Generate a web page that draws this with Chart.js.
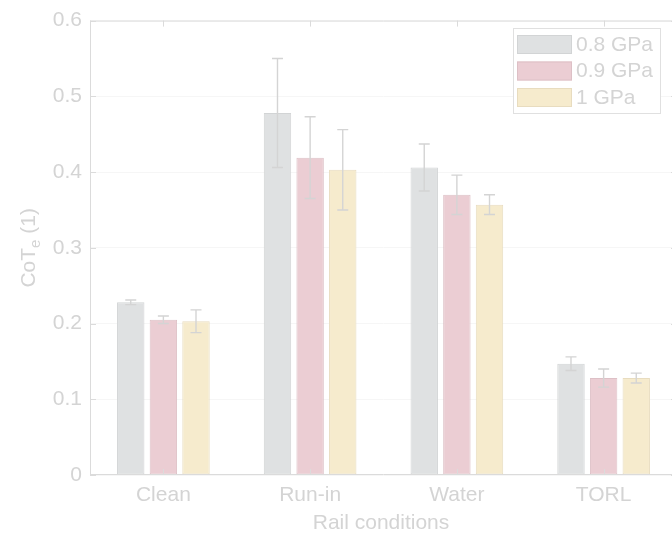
<!DOCTYPE html>
<html><head><meta charset="utf-8">
<script src="https://cdn.jsdelivr.net/npm/chart.js@4.4.0/dist/chart.umd.min.js"></script>
<style>
html,body{margin:0;padding:0;background:#fff;overflow:hidden;width:672px;height:536px}
#wrap{width:680px;height:536px;position:relative}
</style>
</head><body><div id="wrap"><canvas id="c" width="680" height="536"></canvas></div>
<script>
const categories = ['Clean', 'Run-in', 'Water', 'TORL'];
const seriesLabels = ['0.8 GPa', '0.9 GPa', '1 GPa'];
const values08 = [0.228, 0.478, 0.406, 0.147];
const values09 = [0.205, 0.419, 0.370, 0.128];
const values10 = [0.203, 0.403, 0.357, 0.128];
const err08 = [0.003, 0.072, 0.031, 0.009];
const err09 = [0.005, 0.054, 0.026, 0.012];
const err10 = [0.015, 0.053, 0.013, 0.0065];
const yTicks = [0, 0.1, 0.2, 0.3, 0.4, 0.5, 0.6];
const xTitle = 'Rail conditions';
const yTitleParts = ['CoT', 'e', ' (1)'];

const FONT = '"Liberation Sans", Arial, Helvetica, sans-serif';
const TEXT = '#d4d4d4';
const AXIS = '#dbdbdb';
const fills = ['#dfe1e2', '#ebcdd3', '#f6ebcd'];
const borders = ['#d2d4d5', '#ddc0c6', '#e8dcbf'];
const values = [values08, values09, values10];
const errors = [err08, err09, err10];

const errorBars = {
  id: 'errorBars',
  afterDatasetsDraw(chart) {
    const ctx = chart.ctx, y = chart.scales.y;
    ctx.save();
    ctx.strokeStyle = '#d4d4d4';
    ctx.lineWidth = 1.4;
    chart.data.datasets.forEach((ds, i) => {
      const meta = chart.getDatasetMeta(i);
      meta.data.forEach((el, j) => {
        const v = ds.data[j], e = errors[i][j];
        const x = el.x;
        const yt = y.getPixelForValue(v + e), yb = y.getPixelForValue(v - e);
        ctx.beginPath();
        ctx.moveTo(x, yt); ctx.lineTo(x, yb);
        ctx.moveTo(x - 5.5, yt); ctx.lineTo(x + 5.5, yt);
        ctx.moveTo(x - 5.5, yb); ctx.lineTo(x + 5.5, yb);
        ctx.stroke();
      });
    });
    ctx.restore();
  }
};

const frame = {
  id: 'frame',
  afterDraw(chart) {
    const ctx = chart.ctx, a = chart.chartArea;
    const xs = chart.scales.x, ys = chart.scales.y;
    ctx.save();
    ctx.strokeStyle = AXIS;
    ctx.lineWidth = 1;
    ctx.beginPath();
    ctx.moveTo(a.left, a.top + 0.5); ctx.lineTo(a.right, a.top + 0.5);
    ctx.moveTo(a.right - 0.5, a.top); ctx.lineTo(a.right - 0.5, a.bottom);
    ctx.moveTo(a.left + 0.5, a.top); ctx.lineTo(a.left + 0.5, a.bottom);
    ctx.moveTo(a.left, a.bottom - 0.5); ctx.lineTo(a.right, a.bottom - 0.5);
    yTicks.forEach(v => {
      const py = Math.round(ys.getPixelForValue(v)) + 0.5;
      ctx.moveTo(a.left, py); ctx.lineTo(a.left + 6, py);
      ctx.moveTo(a.right, py); ctx.lineTo(a.right - 6, py);
    });
    categories.forEach((c, i) => {
      const px = Math.round(xs.getPixelForValue(i)) + 0.5;
      ctx.moveTo(px, a.bottom); ctx.lineTo(px, a.bottom - 6);
      ctx.moveTo(px, a.top); ctx.lineTo(px, a.top + 6);
    });
    ctx.stroke();

    // axis titles
    ctx.fillStyle = TEXT;
    ctx.font = '21px ' + FONT;
    ctx.textAlign = 'center';
    ctx.textBaseline = 'middle';
    ctx.fillText(xTitle, (a.left + 672) / 2, 523);

    // y title with subscript
    const big = '21px ' + FONT, small = '15px ' + FONT;
    ctx.font = big; const w1 = ctx.measureText(yTitleParts[0]).width;
    const w3 = ctx.measureText(yTitleParts[2]).width;
    ctx.font = small; const w2 = ctx.measureText(yTitleParts[1]).width;
    const total = w1 + w2 + w3;
    ctx.translate(28, (a.top + a.bottom) / 2);
    ctx.rotate(-Math.PI / 2);
    ctx.textAlign = 'left';
    ctx.textBaseline = 'alphabetic';
    let sx = -total / 2;
    ctx.font = big; ctx.fillText(yTitleParts[0], sx, 7); sx += w1;
    ctx.font = small; ctx.fillText(yTitleParts[1], sx, 12); sx += w2;
    ctx.font = big; ctx.fillText(yTitleParts[2], sx, 7);
    ctx.restore();

    // legend
    ctx.save();
    ctx.fillStyle = '#ffffff';
    ctx.strokeStyle = '#e0e0e0';
    ctx.lineWidth = 1;
    ctx.fillRect(513, 28, 147, 85);
    ctx.strokeRect(513.5, 28.5, 147, 85);
    ctx.font = '21px ' + FONT;
    ctx.textAlign = 'left';
    ctx.textBaseline = 'middle';
    chart.data.datasets.forEach((ds, i) => {
      const top = 35 + i * 26.5;
      ctx.fillStyle = ds.backgroundColor;
      ctx.fillRect(517, top, 55, 19);
      ctx.strokeStyle = ds.borderColor;
      ctx.strokeRect(517.5, top + 0.5, 54, 18);
      ctx.fillStyle = TEXT;
      ctx.fillText(ds.label, 576, top + 10);
    });
    ctx.restore();
  }
};

new Chart(document.getElementById('c'), {
  type: 'bar',
  data: {
    labels: categories,
    datasets: seriesLabels.map((lab, i) => ({
      label: lab,
      data: values[i],
      backgroundColor: fills[i],
      borderColor: borders[i],
      borderWidth: 1,
      borderSkipped: false,
      categoryPercentage: 0.667,
      barPercentage: 0.84
    }))
  },
  options: {
    responsive: false,
    devicePixelRatio: 1,
    animation: false,
    layout: { padding: { top: 16, right: 3, left: 0, bottom: 0 } },
    plugins: { legend: { display: false }, title: { display: false }, tooltip: { enabled: false } },
    scales: {
      x: {
        type: 'category',
        offset: true,
        grid: { display: false, drawTicks: false },
        border: { display: false },
        ticks: { color: TEXT, font: { family: FONT, size: 21 }, padding: 8, maxRotation: 0 },
        afterFit(s) { s.height = 61; }
      },
      y: {
        min: 0, max: 0.6,
        afterBuildTicks(s) { s.ticks = yTicks.map(v => ({ value: v })); },
        grid: { color: '#f6f6f6', drawTicks: false },
        border: { display: false },
        ticks: {
          color: TEXT, font: { family: FONT, size: 21 }, padding: 8,
          callback: v => (v === 0 ? '0' : v.toFixed(1))
        },
        afterFit(s) { s.width = 90; }
      }
    }
  },
  plugins: [errorBars, frame]
});
</script>
</body></html>
